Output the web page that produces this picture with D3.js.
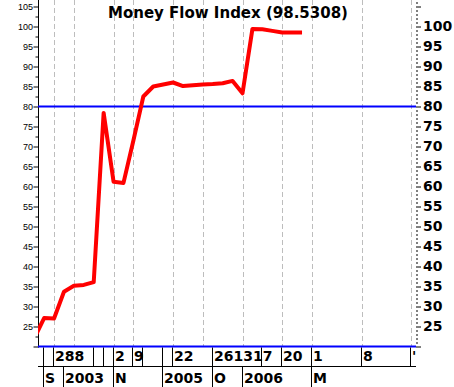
<!DOCTYPE html>
<html>
<head>
<meta charset="utf-8">
<script src="https://cdn.jsdelivr.net/npm/d3@7"></script>
<style>
  body { margin: 0; background: #fff; }
  svg { display: block; }
</style>
</head>
<body>
<script>
// Money Flow Index, one value per period
const mfiValues = [22, 27.1, 27.0, 33.7, 35.2, 35.4, 36.1, 78.4, 61.2, 60.9,
    71.5, 82.5, 85.0, 85.5, 86.0, 85.1, 85.3, 85.5, 85.6, 85.8,
    86.4, 83.3, 99.4, 99.3, 98.9, 98.5, 98.5, 98.5];
const lastValue = '98.5308';
const overbought = 80;
const gridPeriods = [2, 4, 8, 10, 14, 17, 21, 25, 28, 33, 38];
const dayTicks = [1, 2, 6, 7, 8, 10, 11, 13, 14, 18, 23, 25, 28, 33, 38];
const dayLabels = ['', '288', '', '', '2', '9', '', '', '22', '261317', '', '20', '1', '8', '\''];
const monthTicks = [1, 3, 8, 13, 18, 21, 28];
const monthLabels = ['S', '2003', 'N', '2005', 'O', '2006', 'M'];
const leftTickLabels = d3.range(25, 106, 5);
const rightTickLabels = d3.range(25, 101, 5);

const width = 454, height = 387;
const plot = { left: 38, right: 416, top: 0, bottom: 346.5 };

const svg = d3.select('body').append('svg')
    .attr('width', width)
    .attr('height', height);

const x = d3.scaleLinear().domain([0, 38]).range([34.2, 34.2 + 38 * 9.92]);
const y = d3.scaleLinear().domain([20, 106.625]).range([plot.bottom, plot.top]);

svg.append('defs').append('clipPath').attr('id', 'plotclip')
    .append('rect')
    .attr('x', plot.left).attr('y', 0)
    .attr('width', plot.right - plot.left).attr('height', plot.bottom);

// vertical dashed grid
svg.append('g').selectAll('line')
    .data(gridPeriods)
    .join('line')
    .attr('x1', d => Math.round(x(d)) + 0.5)
    .attr('x2', d => Math.round(x(d)) + 0.5)
    .attr('y1', 0)
    .attr('y2', plot.bottom)
    .attr('stroke', '#bdbdbd')
    .attr('stroke-dasharray', '5,3');

// left axis: minor ticks every 2.5, labels every 5
const leftMinor = svg.append('g')
    .attr('transform', 'translate(' + (plot.left + 0.5) + ',0)')
    .call(d3.axisLeft(y).tickValues(d3.range(20, 106, 2.5)).tickSize(3).tickFormat(''));
leftMinor.select('.domain').attr('d', 'M0,0V' + (plot.bottom + 1));
leftMinor.selectAll('.tick line').attr('x2', d => d % 5 === 0 ? -5 : -3);

const leftLabels = svg.append('g')
    .attr('transform', 'translate(' + plot.left + ',0)')
    .call(d3.axisLeft(y).tickValues(leftTickLabels).tickSize(0).tickPadding(5));
leftLabels.select('.domain').remove();
leftLabels.selectAll('text')
    .attr('font-family', 'Liberation Sans, Arial, sans-serif')
    .attr('font-size', 9)
    .attr('fill', '#000');

// right axis: minor ticks every 1, labels every 5
const rightMinor = svg.append('g')
    .attr('transform', 'translate(' + plot.right + ',0)')
    .call(d3.axisRight(y).tickValues(d3.range(20, 107, 1)).tickSize(2).tickFormat(''));
rightMinor.select('.domain').remove();
rightMinor.selectAll('.tick line').attr('x2', d => d % 5 === 0 ? 5 : 2);

const rightLabels = svg.append('g')
    .attr('transform', 'translate(' + plot.right + ',0)')
    .call(d3.axisRight(y).tickValues(rightTickLabels).tickSize(0).tickPadding(7));
rightLabels.select('.domain').remove();
rightLabels.selectAll('text')
    .attr('font-family', 'DejaVu Sans, sans-serif')
    .attr('font-weight', 'bold')
    .attr('font-size', 14)
    .attr('fill', '#000');

// overbought line and bottom line
svg.append('line')
    .attr('x1', plot.left).attr('x2', plot.right)
    .attr('y1', y(overbought)).attr('y2', y(overbought))
    .attr('stroke', '#0000ff').attr('stroke-width', 2);
svg.append('line')
    .attr('x1', plot.left).attr('x2', plot.right)
    .attr('y1', y(20)).attr('y2', y(20))
    .attr('stroke', '#0000ff').attr('stroke-width', 2);

// MFI line
const line = d3.line()
    .x((d, i) => x(i))
    .y(d => y(d));
svg.append('path')
    .datum(mfiValues)
    .attr('clip-path', 'url(#plotclip)')
    .attr('d', line)
    .attr('fill', 'none')
    .attr('stroke', '#ff0000')
    .attr('stroke-width', 4)
    .attr('stroke-linejoin', 'round');

// title
svg.append('text')
    .attr('x', 228).attr('y', 18)
    .attr('text-anchor', 'middle')
    .attr('font-family', 'DejaVu Sans, sans-serif')
    .attr('font-weight', 'bold')
    .attr('font-size', 15)
    .text('Money Flow Index (' + lastValue + ')');

// date rows under the chart
const rowTop = plot.bottom + 1, rowMid = 367, rowBottom = 387;
svg.append('line')
    .attr('x1', plot.left).attr('x2', plot.right)
    .attr('y1', rowMid - 0.5).attr('y2', rowMid - 0.5)
    .attr('stroke', '#000');

function dateRow(ticks, labels, y0, y1, baseline) {
    const g = svg.append('g');
    g.selectAll('line')
        .data(ticks)
        .join('line')
        .attr('x1', d => Math.round(x(d)) - 0.5)
        .attr('x2', d => Math.round(x(d)) - 0.5)
        .attr('y1', y0).attr('y2', y1)
        .attr('stroke', '#000');
    g.selectAll('text')
        .data(ticks)
        .join('text')
        .attr('x', d => Math.round(x(d)) + 1)
        .attr('y', baseline)
        .attr('font-family', 'DejaVu Sans, sans-serif')
        .attr('font-weight', 'bold')
        .attr('font-size', 14)
        .text((d, i) => labels[i]);
}
dateRow(dayTicks, dayLabels, rowTop, rowMid, 361);
dateRow(monthTicks, monthLabels, rowMid, rowBottom, 383);
</script>
</body>
</html>
